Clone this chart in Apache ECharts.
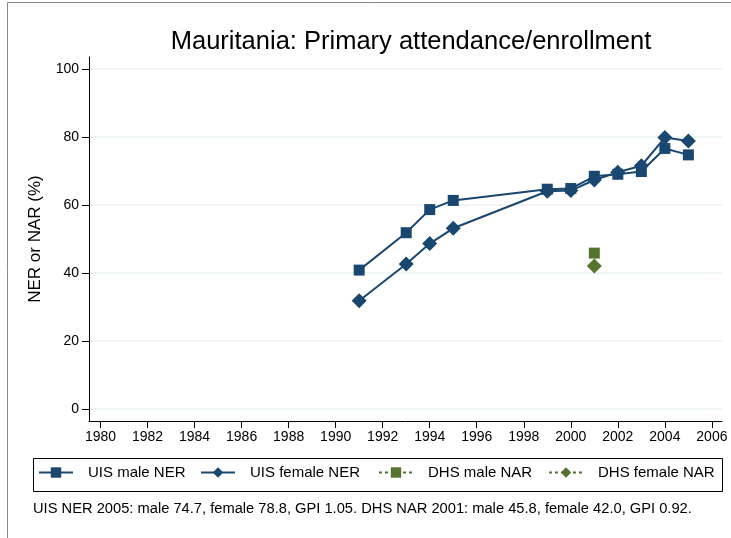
<!DOCTYPE html>
<html>
<head>
<meta charset="UTF-8">
<title>Mauritania: Primary attendance/enrollment</title>
<script src="https://cdn.jsdelivr.net/npm/echarts@6/dist/echarts.min.js"></script>
<style>
html, body { margin: 0; padding: 0; background: #fff; }
#chart { width: 731px; height: 538px; }
</style>
</head>
<body>
<div id="chart"></div>
<script>
// data
var years = [1991, 1993, 1994, 1995, 1999, 2000, 2001, 2002, 2003, 2004, 2005];
var uisMale = [40.8, 51.8, 58.6, 61.3, 64.6, 64.8, 68.4, 69.0, 69.8, 76.6, 74.7];
var uisFemale = [31.8, 42.6, 48.6, 53.1, 64.0, 64.2, 67.3, 69.6, 71.5, 79.8, 78.8];
var dhsYears = [2001];
var dhsMale = [45.8];
var dhsFemale = [42.0];
var xTicks = [1980, 1982, 1984, 1986, 1988, 1990, 1992, 1994, 1996, 1998, 2000, 2002, 2004, 2006];
var yTicks = [0, 20, 40, 60, 80, 100];

var navy = '#1a476f', green = '#55752f';
var font = 'Liberation Sans, Arial, sans-serif';

function pairs(xs, ys) {
	var out = [];
	for (var i = 0; i < xs.length; i++) out.push([xs[i], ys[i]]);
	return out;
}

var chart = echarts.init(document.getElementById('chart'));

// one legend per entry so each can sit where it sits in the picture
function legendAt(name, left) {
	return {
		data: [name],
		left: left,
		top: 465,
		itemWidth: 34,
		itemHeight: 13,
		itemGap: 0,
		padding: 0,
		textStyle: { fontFamily: font, fontSize: 15, color: '#000', padding: [0, 0, 0, 10] },
		selectedMode: false
	};
}

var option = {
	animation: false,
	title: {
		text: 'Mauritania: Primary attendance/enrollment',
		left: 406,
		textAlign: 'center',
		top: 24,
		textStyle: { fontFamily: font, fontSize: 25.5, fontWeight: 'normal', color: '#000' }
	},
	grid: { left: 89, right: 9, top: 57, bottom: 117 },
	legend: [
		legendAt('UIS male NER', 38),
		legendAt('UIS female NER', 200),
		legendAt('DHS male NAR', 378),
		legendAt('DHS female NAR', 548)
	],
	graphic: [
		{ type: 'rect', shape: { x: 7.5, y: 2.5, width: 800, height: 600 },
		  style: { fill: 'none', stroke: '#888', lineWidth: 1 }, silent: true },
		{ type: 'rect', shape: { x: 33.5, y: 458.5, width: 689, height: 33 },
		  style: { fill: 'none', stroke: '#000', lineWidth: 1 }, silent: true },
		{ type: 'text', left: 33, top: 501,
		  style: { text: 'UIS NER 2005: male 74.7, female 78.8, GPI 1.05. DHS NAR 2001: male 45.8, female 42.0, GPI 0.92.',
		           font: '14.7px ' + font, fill: '#000' } }
	],
	xAxis: {
		type: 'value',
		min: 1979.51,
		max: 2006.43,
		axisLine: { show: true, onZero: false, lineStyle: { color: '#000', width: 1 } },
		axisTick: { show: true, length: 7, customValues: xTicks, lineStyle: { color: '#000' } },
		axisLabel: {
			customValues: xTicks, fontFamily: font, fontSize: 14, color: '#000', margin: 9,
			formatter: function (v) { return String(v); }
		},
		splitLine: { show: false }
	},
	yAxis: {
		type: 'value',
		min: -3.6,
		max: 103.5,
		name: 'NER or NAR (%)',
		nameLocation: 'middle',
		nameGap: 45,
		nameTextStyle: { fontFamily: font, fontSize: 17, color: '#000' },
		axisLine: { show: true, onZero: false, lineStyle: { color: '#000', width: 1 } },
		axisTick: { show: true, length: 7, customValues: yTicks, lineStyle: { color: '#000' } },
		axisLabel: { customValues: yTicks, fontFamily: font, fontSize: 14, color: '#000', margin: 10 },
		splitLine: { show: true, lineStyle: { color: '#eaf2f3', width: 1.5 } }
	},
	series: [
		{
			name: 'UIS male NER', type: 'line', data: pairs(years, uisMale),
			symbol: 'rect', symbolSize: 11, color: navy,
			lineStyle: { color: navy, width: 2 }, itemStyle: { color: navy }
		},
		{
			name: 'UIS female NER', type: 'line', data: pairs(years, uisFemale),
			symbol: 'diamond', symbolSize: 15, color: navy,
			lineStyle: { color: navy, width: 2 }, itemStyle: { color: navy }
		},
		{
			name: 'DHS male NAR', type: 'line', data: pairs(dhsYears, dhsMale),
			symbol: 'rect', symbolSize: 11, color: green,
			lineStyle: { color: green, width: 1.5, type: [3, 3] }, itemStyle: { color: green }
		},
		{
			name: 'DHS female NAR', type: 'line', data: pairs(dhsYears, dhsFemale),
			symbol: 'diamond', symbolSize: 15, color: green,
			lineStyle: { color: green, width: 1.5, type: [3, 3] }, itemStyle: { color: green }
		}
	]
};

chart.setOption(option);
</script>
</body>
</html>
